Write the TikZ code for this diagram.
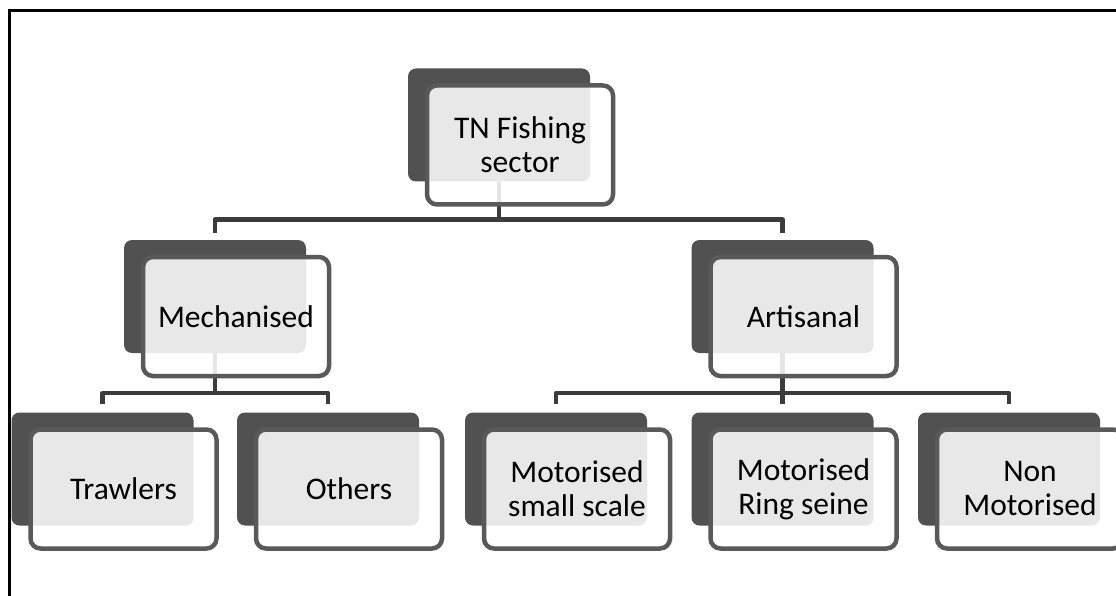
\documentclass[tikz,border=0pt]{standalone}
\usepackage{fontspec}
\setmainfont{Carlito}
\usetikzlibrary{backgrounds}
\definecolor{darkbox}{HTML}{515151}
\definecolor{edgeline}{HTML}{595959}
\definecolor{connline}{HTML}{3C3C3C}
\tikzset{
  back/.style={fill=darkbox, rounded corners=8pt, minimum width=182pt, minimum height=113pt, inner sep=0pt},
  front/.style={draw=edgeline, line width=4.5pt, fill=white, fill opacity=0.87, text opacity=1, draw opacity=1,
    rounded corners=10pt, minimum width=186pt, minimum height=119pt, inner sep=0pt, align=center,
    font=\fontsize{31.5}{34}\selectfont, text=black},
  conn/.style={draw=connline, line width=4.5pt, line join=round},
  frameline/.style={draw=black, line width=3pt},
}
\begin{document}
\begin{tikzpicture}[x=1pt,y=-1pt]
\useasboundingbox (0,0) rectangle (1116,596);
\draw[frameline] (9,598) -- (9,11) -- (1118,11);

% panels
\node[back] (top)  at (499,125) {};
\node[front] (topF) at ([xshift=21pt,yshift=-20pt]top.center) {TN Fishing\\sector};

\node[back] (mech) at (215,296.5) {};
\node[front] (mechF) at ([xshift=21pt,yshift=-20pt]mech.center) {Mechanised};

\node[back] (art) at (782.5,296.5) {};
\node[front] (artF) at ([xshift=21pt,yshift=-20pt]art.center) {Artisanal};

\node[back] (traw) at (102.5,469) {};
\node[front] (trawF) at ([xshift=21pt,yshift=-20pt]traw.center) {Trawlers};

\node[back] (oth) at (328,469) {};
\node[front] (othF) at ([xshift=21pt,yshift=-20pt]oth.center) {Others};

\node[back] (mss) at (556,469) {};
\node[front] (mssF) at ([xshift=21pt,yshift=-20pt]mss.center) {Motorised\\small scale};

\node[back] (mrs) at (782.5,469) {};
\node[front] (mrsF) at ([xshift=21pt,yshift=-20pt]mrs.center) {Motorised\\Ring seine};

\node[back] (nonm) at (1009,469) {};
\node[front] (nonmF) at ([xshift=21pt,yshift=-20pt]nonm.center) {Non\\Motorised};

\begin{scope}[on background layer]
  \draw[conn] (top.south) -- ++(0,-38pt) -| ([yshift=7pt]mech.north);
  \draw[conn] (top.south) -- ++(0,-38pt) -| ([yshift=7pt]art.north);
  \draw[conn] (mech.south) -- ++(0,-40pt) -| ([yshift=8pt]traw.north);
  \draw[conn] (mech.south) -- ++(0,-40pt) -| ([yshift=8pt]oth.north);
  \draw[conn] (art.south) -- ++(0,-40pt) -| ([yshift=8pt]mss.north);
  \draw[conn] (art.south) -- ++(0,-40pt) -| ([yshift=8pt]mrs.north);
  \draw[conn] (art.south) -- ++(0,-40pt) -| ([yshift=8pt]nonm.north);
\end{scope}
\end{tikzpicture}
\end{document}
